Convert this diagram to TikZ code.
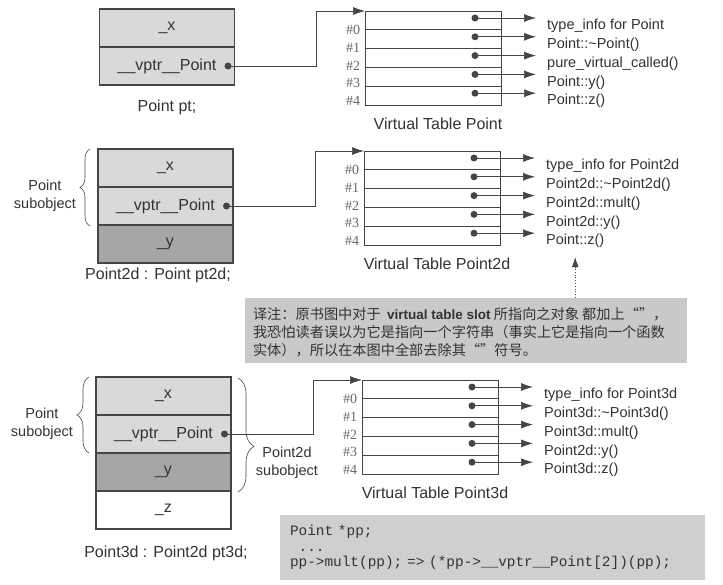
\documentclass[tikz,border=0pt]{standalone}
\usepackage{fontspec}
\setmainfont{Liberation Sans}
\newfontfamily\slotfont{Liberation Serif}
\newfontfamily\codefont{Liberation Mono}
\newfontfamily\cjk{Noto Sans CJK SC}
\usetikzlibrary{arrows.meta,decorations.pathreplacing}
\definecolor{cellgray}{gray}{0.85}
\definecolor{ygray}{gray}{0.65}
\definecolor{notegray}{gray}{0.79}
\definecolor{codegray}{gray}{0.81}
\definecolor{linegray}{gray}{0.27}
\definecolor{textgray}{gray}{0.2}

\begin{document}
\begin{tikzpicture}[x=1pt, y=-1pt, every node/.style={text centered, inner sep=0pt, text=textgray},
	cell/.style={rectangle, draw=linegray, line width=1.1pt, minimum width=135pt, minimum height=38pt, font=\fontsize{16}{18}\selectfont},
	vtab/.style={rectangle, draw=linegray, line width=0.6pt, minimum width=136pt, minimum height=94pt},
	slotline/.style={draw=linegray, line width=1.2pt},
	ptrdot/.style={circle, fill=linegray, minimum size=7pt},
	ptr/.style={draw=linegray, line width=0.7pt, -{Latex[length=12pt, width=8pt]}},
	capt/.style={font=\fontsize{16}{18}\selectfont},
	fnlabel/.style={anchor=west, font=\fontsize{14.5}{16}\selectfont},
	slotnum/.style={font=\slotfont\fontsize{14}{16}\selectfont, text=black!60},
	sublabel/.style={align=center, font=\fontsize{14.5}{18}\selectfont},
	subbrace/.style={draw=linegray, line width=0.6pt, decorate, decoration={brace, amplitude=#1}}]
	\useasboundingbox (0,0) rectangle (723,584);

	% objects
	\node[cell, fill=cellgray] (pt-x) at (167,28) {\_x};
	\node[cell, fill=cellgray] (pt-vptr) at (167,66) {\_\_vptr\_\_Point};
	\node[capt] (pt-name) at (167,107) {Point pt;};

	\node[cell, fill=cellgray] (pt2d-x) at (165.5,168) {\_x};
	\node[cell, fill=cellgray] (pt2d-vptr) at (165.5,206) {\_\_vptr\_\_Point};
	\node[cell, fill=ygray] (pt2d-y) at (165.5,244) {\_y};
	\node[capt] (pt2d-name) at (158,275) {Point2d : Point pt2d;};

	\node[cell, fill=cellgray] (pt3d-x) at (163.5,396) {\_x};
	\node[cell, fill=cellgray] (pt3d-vptr) at (163.5,434) {\_\_vptr\_\_Point};
	\node[cell, fill=ygray] (pt3d-y) at (163.5,472) {\_y};
	\node[cell, fill=white] (pt3d-z) at (163.5,510) {\_z};
	\node[capt] (pt3d-name) at (166,553) {Point3d : Point2d pt3d;};

	% subobject braces
	\draw[subbrace=10pt] (90,226) -- (90,149);
	\node[sublabel] (pt2d-sub) at (45,196) {Point\\subobject};
	\draw[subbrace=12pt] (89,453) -- (89,377);
	\node[sublabel] (pt3d-sub) at (42,424) {Point\\subobject};
	\draw[subbrace=16pt, decoration={aspect=0.6}] (238,378) -- (238,492);
	\node[sublabel] (pt3d-sub2d) at (287,463) {Point2d\\subobject};

	% virtual tables
	\foreach \vt/\vx/\vy/\vname in {pt/365/11/Point, pt2d/364/151/Point2d, pt3d/362/380/Point3d}{
		\node[vtab, anchor=north west] (\vt-vt) at (\vx,\vy) {};
		\node[capt] (\vt-vtname) at ({\vx+73},{\vy+113}) {Virtual Table \vname};
		\foreach \k in {1,...,4}
			\draw[slotline] ({\vx},{\vy+18.8*\k}) -- ({\vx+136},{\vy+18.8*\k});
		\foreach \k in {0,...,4}{
			\node[slotnum] (\vt-n\k) at ({\vx-12},{\vy+19+17.8*\k}) {\#\k};
			\node[ptrdot] (\vt-d\k) at ({\vx+110},{\vy+18.8*\k+7}) {};
		}
	}

	\foreach \k/\fn in {0/type\_info for Point, 1/Point::\textasciitilde Point(), 2/pure\_virtual\_called(), 3/Point::y(), 4/Point::z()}
		\node[fnlabel] (pt-f\k) at ([shift={(72,8)}]pt-d\k) {\fn};
	\foreach \k/\fn in {0/type\_info for Point2d, 1/Point2d::\textasciitilde Point2d(), 2/Point2d::mult(), 3/Point2d::y(), 4/Point::z()}
		\node[fnlabel] (pt2d-f\k) at ([shift={(72,8)}]pt2d-d\k) {\fn};
	\foreach \k/\fn in {0/type\_info for Point3d, 1/Point3d::\textasciitilde Point3d(), 2/Point3d::mult(), 3/Point2d::y(), 4/Point3d::z()}
		\node[fnlabel] (pt3d-f\k) at ([shift={(72,8)}]pt3d-d\k) {\fn};

	\foreach \vt in {pt,pt2d,pt3d}
		\foreach \k in {0,...,4}
			\draw[ptr, shorten >=11pt] (\vt-d\k.center) -- (\vt-d\k -| \vt-f\k.west);

	% vptr
	\node[ptrdot] (pt-dot) at (228,66) {};
	\node[ptrdot] (pt2d-dot) at (226.5,206) {};
	\node[ptrdot] (pt3d-dot) at (224.5,434) {};
	\coordinate (pt-bend) at (316,11);
	\coordinate (pt2d-bend) at (315,151);
	\coordinate (pt3d-bend) at (313,380);
	\draw[ptr] (pt-dot.center) -| (pt-bend) -- (pt-vt.north west);
	\draw[ptr] (pt2d-dot.center) -| (pt2d-bend) -- (pt2d-vt.north west);
	\draw[ptr] (pt3d-dot.center) -| (pt3d-bend) -- (pt3d-vt.north west);

	% note
	\node[rectangle, fill=notegray, minimum width=442pt, minimum height=65pt] (note) at (466,330.5) {};
	\node[anchor=west, align=left, font=\cjk\fontsize{14.2}{18}\selectfont] (note-text) at ([xshift=8pt, yshift=-2pt]note.west)
		{译注：原书图中对于\ \ {\normalfont\fontsize{13.5}{18}\selectfont\bfseries virtual table slot} 所指向之对象 都加上“”，\\
		我恐怕读者误以为它是指向一个字符串（事实上它是指向一个函数\\
		实体），所以在本图中全部去除其“”符号。};
	\draw[draw=linegray, line width=0.8pt, dotted, -{Latex[length=10pt, width=7pt]}, shorten >=9pt]
		(note.north -| pt2d-f4.south) -- (pt2d-f4.south);

	% code
	\node[rectangle, fill=codegray, minimum width=425pt, minimum height=65pt, text width=405pt, align=left,
		font=\codefont\fontsize{14.4}{15.5}\selectfont] (code) at (492.5,547.5)
		{Point *pp;\\
		\hphantom{p}...\\
		pp->mult(pp); => (*pp->\_\_vptr\_\_Point[2])(pp);};
\end{tikzpicture}
\end{document}
